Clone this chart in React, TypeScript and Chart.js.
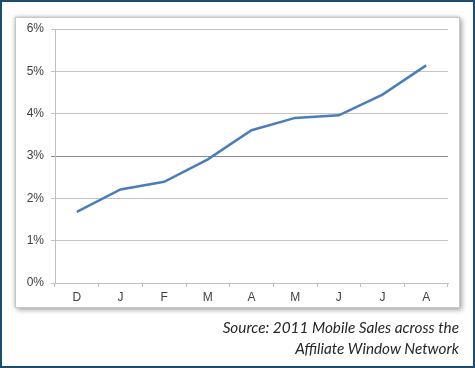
import React, { useEffect, useRef } from "react";
import { Chart, registerables } from "chart.js";

Chart.register(...registerables);

const categories = ["D", "J", "F", "M", "A", "M", "J", "J", "A"];
const mobileShare = [1.68, 2.21, 2.39, 2.92, 3.61, 3.9, 3.96, 4.45, 5.14];
const yTicks = [0, 1, 2, 3, 4, 5, 6];
const sourceLines = ["Source: 2011 Mobile Sales across the", "Affiliate Window Network"];

export default function App() {
  const ref = useRef<HTMLCanvasElement | null>(null);

  useEffect(() => {
    document.body.style.margin = "0";
    const ctx = ref.current!;
    const chart = new Chart(ctx, {
      type: "line",
      data: {
        labels: categories,
        datasets: [
          {
            data: mobileShare,
            borderColor: "#4a7ebb",
            borderWidth: 2.5,
            pointRadius: 0,
            tension: 0,
            fill: false,
          },
        ],
      },
      options: {
        animation: false,
        responsive: false,
        maintainAspectRatio: false,
        plugins: { legend: { display: false }, tooltip: { enabled: false } },
        layout: { padding: { left: 0, top: 29, right: 27, bottom: 0 } },
        scales: {
          x: {
            offset: true,
            afterFit: (s: any) => {
              s.height = 368 - 29 - 254;
            },
            grid: {
              offset: true,
              drawOnChartArea: false,
              drawTicks: true,
              tickLength: 4,
              color: "#bfbfbf",
            },
            border: { color: "#bfbfbf", width: 1 },
            ticks: {
              color: "#404040",
              padding: 3,
              font: { family: "Liberation Sans", size: 12 },
              maxRotation: 0,
            },
          },
          y: {
            min: 0,
            max: 6,
            afterFit: (s: any) => {
              s.width = 55;
            },
            afterBuildTicks: (s: any) => {
              s.ticks = yTicks.map((v) => ({ value: v }));
            },
            grid: {
              color: (c: any) => (c.tick && c.tick.value === 3 ? "#8c8c8c" : "#c4c4c4"),
              tickLength: 4,
              drawTicks: true,
            },
            border: { color: "#bfbfbf", width: 1 },
            ticks: {
              color: "#404040",
              padding: 7,
              font: { family: "Liberation Sans", size: 12 },
              callback: (v: any) => v + "%",
            },
          },
        },
      },
    });
    return () => chart.destroy();
  }, []);

  return (
    <div
      style={{
        position: "absolute",
        left: 0,
        top: 0,
        width: 475,
        height: 368,
        boxSizing: "border-box",
        border: "2px solid #1b4c6e",
        background: "#ffffff",
        overflow: "hidden",
      }}
    >
      <div
        style={{
          position: "absolute",
          left: 13,
          top: 15,
          width: 445,
          height: 291,
          boxSizing: "border-box",
          border: "1px solid #c8c8c8",
          background: "#fff",
          boxShadow: "2px 2px 5px rgba(0,0,0,0.35), -1px -1px 3px rgba(0,0,0,0.15)",
        }}
      />
      <canvas
        ref={ref}
        width={475}
        height={368}
        style={{ position: "absolute", left: -2, top: -2, width: 475, height: 368 }}
      />
      <div
        style={{
          position: "absolute",
          right: 14,
          top: 315,
          textAlign: "right",
          fontFamily: "Lato, 'Open Sans', sans-serif",
          fontStyle: "italic",
          fontSize: 15.3,
          lineHeight: "21px",
          color: "#262626",
          whiteSpace: "nowrap",
        }}
      >
        {sourceLines.map((l, i) => (
          <div key={i}>{l}</div>
        ))}
      </div>
    </div>
  );
}
